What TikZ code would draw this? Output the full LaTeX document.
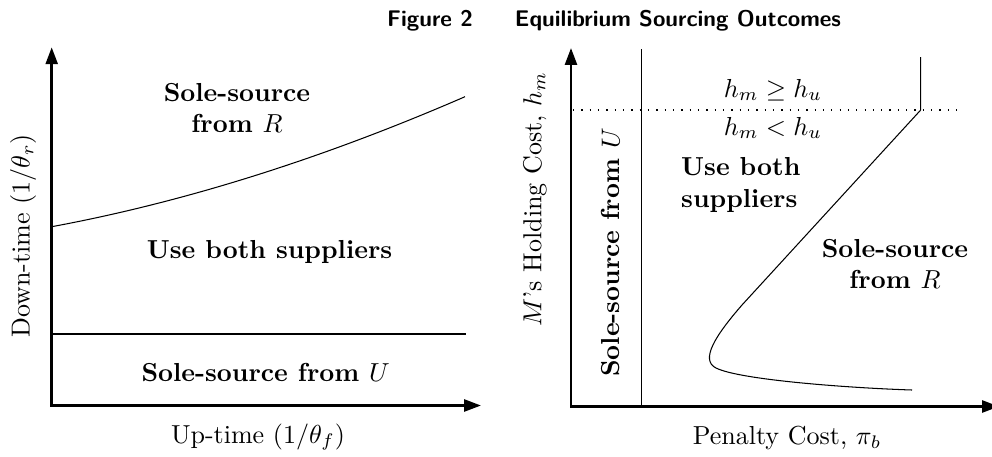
\documentclass[tikz,border=0pt]{standalone}
\usepackage{amsmath}
\usepackage{amssymb}
\usetikzlibrary{arrows.meta}

\begin{document}
\begin{tikzpicture}[x=0.0135cm,y=-0.0135cm,
	axes/.style={line width=1pt,{Triangle[length=6.5pt,width=4.6pt]}-{Triangle[length=6.5pt,width=4.6pt]}},
	region/.style={font=\bfseries,align=center},
	titlefont/.style={font=\sffamily\bfseries\fontsize{8.7}{10}\selectfont,anchor=base}]
			\useasboundingbox (0,0) rectangle (992,456);
			\node[titlefont] (fig) at (430,26.5) {Figure 2};
			\node[titlefont] (title) at (678,26.5) {Equilibrium Sourcing Outcomes};

			% left panel: up-time vs down-time
			\draw[axes] (51.7,47.3) -- (51.7,405.5) -- (481,405.5);
			\draw (51.7,334) -- (466,334);
			\draw (51.7,226.7) .. controls (183.9,202.2) and (321.7,158.9) .. (465,96.7);
			\node[region] (soleR) at (237,108) {Sole-source\\from $R$};
			\node[region] (both) at (269.5,252) {Use both suppliers};
			\node[region] (soleU) at (265.7,373) {Sole-source from $U$};
			\node[] (uptime) at (258,437) {Up-time $(1/\theta_f)$};
			\node[rotate=90] (downtime) at (23,236) {Down-time $(1/\theta_r)$};

			% right panel: penalty cost vs holding cost
			\draw[axes] (571,48) -- (571,406.5) -- (999,406.5);
			\draw (641.7,49) -- (641.7,406.5);
			\draw[dash pattern=on 0.5pt off 2.7pt] (573,110) -- (958,110);
			\coordinate (kink) at (920.7,110);
			\draw (920.7,57) -- (kink) -- (742,305) .. controls (715,336) and (700,360) .. (716,368) .. controls (740,380) and (850,388) .. (912,390);
			\node[] (hge) at (773,90) {$h_m \geq h_u$};
			\node[] (hlt) at (773,128) {$h_m < h_u$};
			\node[region,align=left,anchor=west] (both2) at (672,185) {Use both\\suppliers};
			\node[region] (soleR2) at (895,264) {Sole-source\\from $R$};
			\node[region,rotate=90] (soleU2) at (610.7,252.5) {Sole-source from $U$};
			\node[] (penalty) at (787,438) {Penalty Cost, $\pi_b$};
			\node[rotate=90] (holding) at (535,199) {$M$'s Holding Cost, $h_m$};
		\end{tikzpicture}
\end{document}
